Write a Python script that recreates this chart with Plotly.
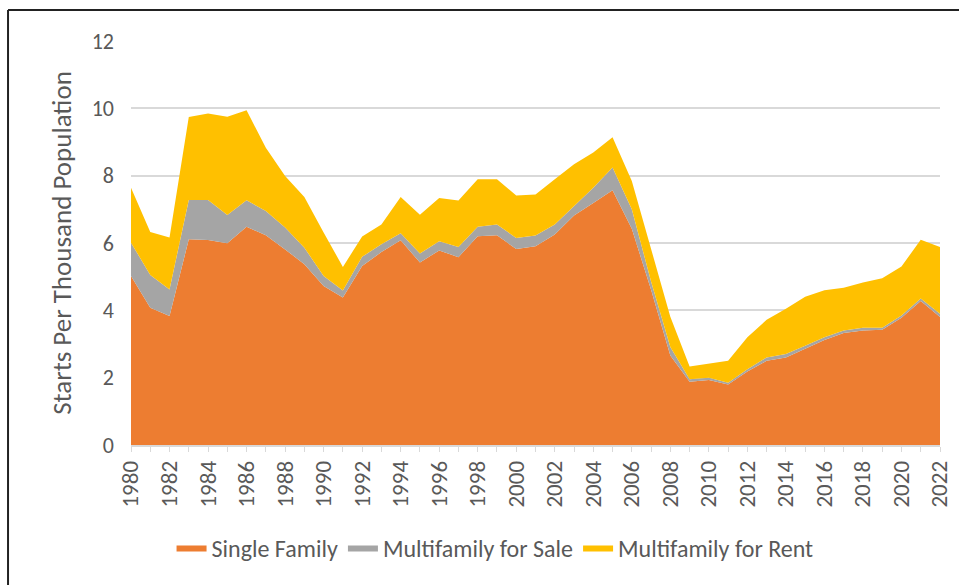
import plotly.graph_objects as go

years = list(range(1980, 2023))

# starts per thousand population
single_family = [5.02, 4.08, 3.83, 6.11, 6.09, 5.99, 6.48, 6.23, 5.81, 5.37,
                 4.72, 4.38, 5.32, 5.73, 6.08, 5.42, 5.78, 5.58, 6.20, 6.23,
                 5.82, 5.90, 6.25, 6.82, 7.19, 7.57, 6.42, 4.61, 2.66, 1.88,
                 1.93, 1.80, 2.18, 2.50, 2.60, 2.87, 3.12, 3.33, 3.40, 3.42,
                 3.78, 4.28, 3.80]
mf_sale = [0.99, 0.97, 0.79, 1.17, 1.19, 0.84, 0.79, 0.72, 0.65, 0.49,
           0.30, 0.21, 0.27, 0.23, 0.21, 0.27, 0.27, 0.30, 0.28, 0.32,
           0.33, 0.32, 0.30, 0.27, 0.45, 0.67, 0.58, 0.25, 0.25, 0.07,
           0.07, 0.05, 0.07, 0.10, 0.10, 0.08, 0.08, 0.07, 0.08, 0.06,
           0.07, 0.07, 0.10]
mf_rent = [1.63, 1.28, 1.54, 2.46, 2.57, 2.92, 2.67, 1.88, 1.53, 1.51,
           1.29, 0.70, 0.60, 0.59, 1.08, 1.15, 1.29, 1.38, 1.41, 1.34,
           1.26, 1.22, 1.34, 1.25, 1.05, 0.90, 0.84, 0.94, 0.90, 0.38,
           0.42, 0.65, 0.95, 1.12, 1.35, 1.45, 1.40, 1.27, 1.35, 1.47,
           1.45, 1.75, 1.98]

series = [
    ("Single Family", single_family, "#ED7D31"),
    ("Multifamily for Sale", mf_sale, "#A5A5A5"),
    ("Multifamily for Rent", mf_rent, "#FFC000"),
]

fig = go.Figure()
for name, vals, color in series:
    fig.add_trace(go.Scatter(
        x=years, y=vals, name=name, mode="lines",
        stackgroup="one", line=dict(width=0, color=color),
        fillcolor=color,
    ))

txt = "#595959"
fig.update_layout(
    width=959, height=585,
    margin=dict(l=131, r=19, t=41, b=140),
    paper_bgcolor="white", plot_bgcolor="white",
    font=dict(family="Calibri, Carlito, Lato, sans-serif", color=txt, size=22),
    showlegend=True,
    legend=dict(orientation="h", x=0.45, xanchor="center", y=-0.255,
                yanchor="middle", font=dict(size=24, color=txt),
                itemwidth=30, traceorder="normal"),
    xaxis=dict(range=[1980, 2022], tick0=1980, dtick=2, tickangle=-90,
               automargin=False, ticklabeloverflow="allow",
               showgrid=False, zeroline=False, showline=True,
               linecolor="#D9D9D9", linewidth=1.5,
               ticks="outside", ticklen=5, tickcolor="#D9D9D9",
               minor=dict(ticks="outside", dtick=1, ticklen=5,
                          tickcolor="#D9D9D9"),
               tickfont=dict(size=23, color=txt)),
    yaxis=dict(range=[0, 12], dtick=2, gridcolor="#D9D9D9", gridwidth=1.5,
               zeroline=False, ticks="", ticklabelstandoff=16,
               tickfont=dict(size=22, color=txt),
               title=dict(text="Starts Per Thousand Population",
                          font=dict(size=27, color=txt), standoff=12)),
)

# outer frame, only its top and left edges show in the picture
fig.add_shape(type="line", xref="paper", yref="paper",
              x0=-0.152, x1=1.05, y0=1.077, y1=1.077,
              line=dict(color="#222222", width=2))
fig.add_shape(type="line", xref="paper", yref="paper",
              x0=-0.152, x1=-0.152, y0=-0.4, y1=1.077,
              line=dict(color="#222222", width=2))

# drop the default page margin so the 959x585 figure fills the window
fig.write_html("out.html", config={"displayModeBar": False}, post_script=(
    "document.body.style.margin='0';"
    "document.body.style.overflow='hidden';"))
